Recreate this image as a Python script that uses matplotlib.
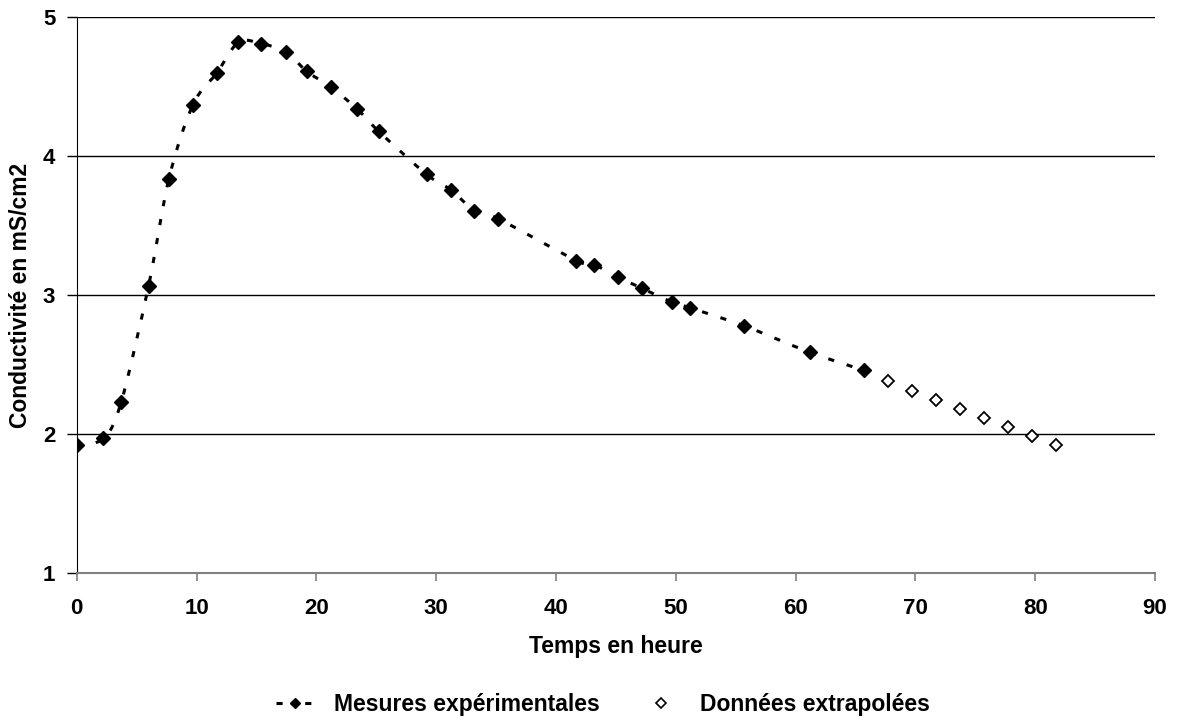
import matplotlib
matplotlib.use("Agg")
import matplotlib.pyplot as plt
from matplotlib.path import Path
from matplotlib.patches import PathPatch
from matplotlib.lines import Line2D

plt.rcParams['font.family'] = ['Liberation Sans', 'DejaVu Sans']
plt.rcParams['font.weight'] = 'bold'

# measured points (hours, mS/cm2)
mesures_t = [0, 2.2, 3.7, 6.0, 7.7, 9.7, 11.7, 13.5, 15.4, 17.5, 19.2, 21.2, 23.4, 25.2,
             29.2, 31.2, 33.2, 35.2, 41.7, 43.2, 45.2, 47.2, 49.7, 51.2, 55.7, 61.2, 65.7]
mesures_c = [1.92, 1.97, 2.23, 3.07, 3.84, 4.37, 4.60, 4.82, 4.81, 4.75, 4.61, 4.50, 4.34, 4.18,
             3.87, 3.76, 3.61, 3.55, 3.25, 3.22, 3.13, 3.05, 2.95, 2.91, 2.78, 2.59, 2.46]

# extrapolated points
extrap_t = [67.7, 69.7, 71.7, 73.7, 75.7, 77.7, 79.7, 81.7]
extrap_c = [2.38, 2.31, 2.25, 2.18, 2.12, 2.05, 1.99, 1.92]

x_ticks = [0, 10, 20, 30, 40, 50, 60, 70, 80, 90]
y_ticks = [1, 2, 3, 4, 5]


def smooth_path(xs, ys):
    # excel-like smoothed line: cubic bezier through every point
    pts = list(zip(xs, ys))
    n = len(pts)
    verts = [pts[0]]
    codes = [Path.MOVETO]
    for i in range(n - 1):
        p0 = pts[max(i - 1, 0)]
        p1 = pts[i]
        p2 = pts[i + 1]
        p3 = pts[min(i + 2, n - 1)]
        c1 = (p1[0] + (p2[0] - p0[0]) / 6, p1[1] + (p2[1] - p0[1]) / 6)
        c2 = (p2[0] - (p3[0] - p1[0]) / 6, p2[1] - (p3[1] - p1[1]) / 6)
        verts += [c1, c2, p2]
        codes += [Path.CURVE4] * 3
    return Path(verts, codes)


dash = (0, (2, 4.3))

fig = plt.figure(figsize=(11.77, 7.2), dpi=100)
ax = fig.add_axes([0.0652, 0.2037, 0.9161, 0.7723])

ax.add_patch(PathPatch(smooth_path(mesures_t, mesures_c), fill=False, color='black',
                       lw=2.2, linestyle=dash, capstyle='butt', zorder=2))
ax.plot(mesures_t, mesures_c, linestyle='none', marker='D', ms=7,
        color='black', zorder=3)
ax.plot(extrap_t, extrap_c, linestyle='none', marker='D', ms=6.5, mfc='white',
        mec='black', mew=1.3, zorder=3)

ax.set_xlim(0, 90)
ax.set_ylim(1, 5)
ax.set_xticks(x_ticks)
ax.set_yticks(y_ticks)
ax.grid(axis='y', color='black', lw=1.0)
ax.set_axisbelow(True)

for s in ['top', 'right']:
    ax.spines[s].set_visible(False)
ax.spines['left'].set_color('black')
ax.spines['bottom'].set_color('#7f7f7f')
ax.spines['bottom'].set_linewidth(1.5)
ax.tick_params(axis='x', colors='#7f7f7f', labelcolor='black', length=6, width=1.2,
               labelsize=16, pad=12)
ax.tick_params(axis='y', length=7, width=1.0, labelsize=16, pad=8.5)

ax.set_xlabel('Temps en heure', fontsize=16.5, fontweight='bold', labelpad=11)
ax.set_ylabel('Conductivité en mS/cm2', fontsize=16.5, fontweight='bold', labelpad=8)

# legend sample: dash - diamond - dash
h1 = Line2D([], [], color='black', lw=2.2, linestyle=(0, (2, 2.7)), marker='D', ms=5)
h2 = Line2D([], [], linestyle='none', marker='D', ms=5, mfc='white', mec='black', mew=1.2)
fig.legend([h1, h2], ['Mesures expérimentales', 'Données extrapolées'],
           loc='center', bbox_to_anchor=(0.512, 0.021), ncol=2, frameon=False,
           prop={'size': 16.5, 'weight': 'bold'}, handlelength=1.7, handletextpad=0.85,
           columnspacing=1.8)

fig.savefig('out.png', dpi=100)
